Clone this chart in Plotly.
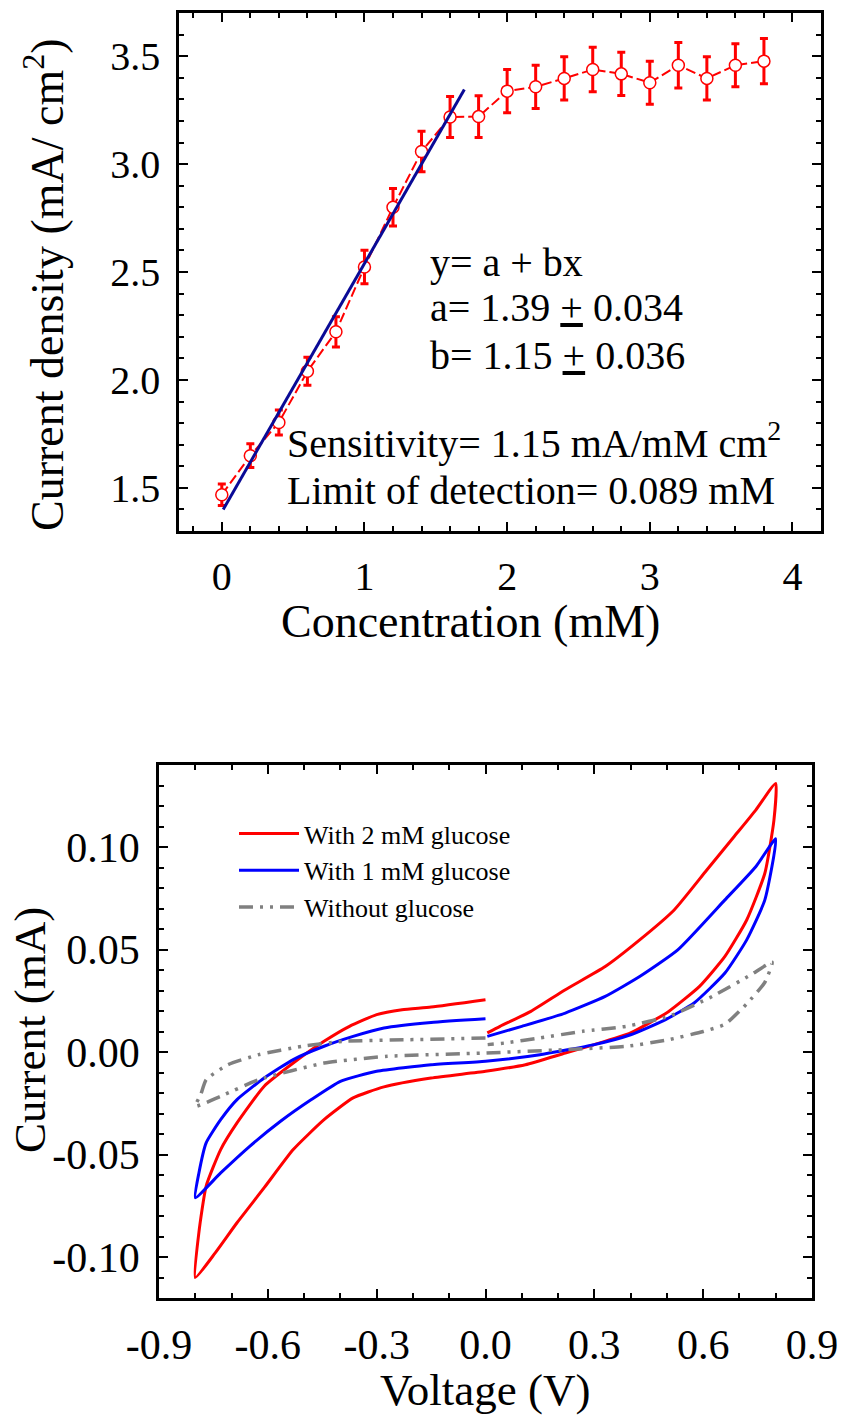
import plotly.graph_objects as go

# ---------------- data: top panel ----------------
conc = [0.0, 0.2, 0.4, 0.6, 0.8, 1.0, 1.2, 1.4, 1.6, 1.8, 2.0, 2.2, 2.4, 2.6, 2.8, 3.0, 3.2, 3.4, 3.6, 3.8]
current_density = [1.468, 1.649, 1.803, 2.04, 2.223, 2.523, 2.80, 3.058, 3.218, 3.22,
                   3.338, 3.358, 3.397, 3.438, 3.418, 3.377, 3.458, 3.397, 3.458, 3.477]
cd_error = [0.05, 0.055, 0.058, 0.065, 0.07, 0.078, 0.087, 0.094, 0.095, 0.097,
            0.10, 0.10, 0.10, 0.103, 0.10, 0.10, 0.105, 0.10, 0.10, 0.105]
fit_x = [0.01, 1.70]
fit_y = [1.40, 3.345]

# ---------------- data: bottom panel (CV) ----------------
red_v = [0.0, -0.15, -0.23, -0.30, -0.375, -0.445, -0.53, -0.61, -0.685, -0.73, -0.77, -0.79, -0.80,
         -0.745, -0.685, -0.61, -0.53, -0.445, -0.365, -0.28, -0.15, 0.0, 0.11, 0.22, 0.30, 0.40,
         0.505, 0.59, 0.66, 0.72, 0.77, 0.795, 0.80,
         0.745, 0.685, 0.61, 0.52, 0.425, 0.33, 0.22, 0.125, 0.04, 0.005]
red_i = [0.0255, 0.0219, 0.0206, 0.0182, 0.0125, 0.0052, -0.0054, -0.0167, -0.0346, -0.0476, -0.0654, -0.088, -0.110,
         -0.098, -0.0833, -0.0662, -0.0476, -0.033, -0.0224, -0.017, -0.0127, -0.0094, -0.0062, -0.0005, 0.0036, 0.0093,
         0.0198, 0.032, 0.0466, 0.0644, 0.0872, 0.113, 0.131,
         0.118, 0.105, 0.0888, 0.0693, 0.0547, 0.0417, 0.0304, 0.0198, 0.0125, 0.0093]

blue_v = [0.0, -0.15, -0.28, -0.365, -0.445, -0.53, -0.61, -0.685, -0.73, -0.77, -0.79, -0.80,
          -0.73, -0.65, -0.565, -0.48, -0.40, -0.30, -0.15, 0.0, 0.15, 0.30, 0.40, 0.495, 0.575,
          0.66, 0.72, 0.77, 0.80,
          0.745, 0.66, 0.53, 0.425, 0.33, 0.22, 0.10, 0.005]
blue_i = [0.0162, 0.0144, 0.0117, 0.0076, 0.0028, -0.0037, -0.0127, -0.0232, -0.033, -0.0443, -0.059, -0.0711,
          -0.059, -0.046, -0.0338, -0.0232, -0.0143, -0.0094, -0.0062, -0.0045, -0.0013, 0.0036, 0.0084, 0.0157, 0.0239,
          0.0385, 0.0547, 0.0742, 0.104,
          0.0904, 0.0742, 0.0498, 0.0368, 0.0271, 0.019, 0.0125, 0.0076]

gray_v = [0.0, -0.21, -0.39, -0.505, -0.625, -0.71, -0.77, -0.785, -0.80,
          -0.73, -0.625, -0.445, -0.27, 0.0, 0.21, 0.39, 0.505, 0.60, 0.66, 0.72, 0.77, 0.79,
          0.732, 0.625, 0.506, 0.387, 0.268, 0.149, 0.054, 0.006]
gray_i = [0.0068, 0.006, 0.0052, 0.0028, -0.0013, -0.0062, -0.0135, -0.0208, -0.0265,
          -0.0216, -0.0135, -0.0054, -0.0021, -0.0005, 0.0011, 0.0028, 0.006, 0.010, 0.0135, 0.0235, 0.034, 0.0438,
          0.0377, 0.0271, 0.0174, 0.0125, 0.0101, 0.0068, 0.0044, 0.0036]

legend_names = ["With 2 mM glucose", "With 1 mM glucose", "Without glucose"]

FONT = "Liberation Serif"
W, H = 842, 1416

def px(x):
    return x / W

def py(y):
    return 1 - y / H

fig = go.Figure()

# top panel
fig.add_trace(go.Scatter(
    x=conc, y=current_density, mode="lines+markers",
    line=dict(color="#ff0000", width=2, dash="10px,4px"),
    marker=dict(symbol="circle", size=12, color="white", line=dict(color="#ff0000", width=1.5)),
    error_y=dict(type="data", array=cd_error, visible=True, color="#ff0000", thickness=3, width=4),
    xaxis="x", yaxis="y", showlegend=False))
fig.add_trace(go.Scatter(
    x=fit_x, y=fit_y, mode="lines", line=dict(color="#0a0a96", width=3),
    xaxis="x", yaxis="y", showlegend=False))

# bottom panel
fig.add_trace(go.Scatter(x=red_v, y=red_i, mode="lines", name=legend_names[0],
                         line=dict(color="#ff0000", width=3, shape="spline", smoothing=0.5),
                         xaxis="x2", yaxis="y2"))
fig.add_trace(go.Scatter(x=blue_v, y=blue_i, mode="lines", name=legend_names[1],
                         line=dict(color="#0000ff", width=3, shape="spline", smoothing=0.5),
                         xaxis="x2", yaxis="y2"))
fig.add_trace(go.Scatter(x=gray_v, y=gray_i, mode="lines", name=legend_names[2],
                         line=dict(color="#808080", width=3.5, dash="14px,7px,3px,7px,3px,7px",
                                   shape="spline", smoothing=0.5),
                         xaxis="x2", yaxis="y2"))

axis_common = dict(showline=True, linecolor="black", linewidth=2.5, mirror="allticks",
                   ticks="inside", ticklen=9, tickwidth=2, tickcolor="black",
                   showgrid=False, zeroline=False, ticklabelstandoff=8, automargin=False)

fig.update_layout(
    width=W, height=H, margin=dict(l=0, r=0, t=0, b=0, autoexpand=False),
    paper_bgcolor="white", plot_bgcolor="white",
    font=dict(family=FONT, color="black"),
    xaxis=dict(domain=[px(179), px(821)], anchor="y", range=[-0.3, 4.2],
               tickvals=[0, 1, 2, 3, 4], tickfont=dict(size=40, family=FONT),
               minor=dict(dtick=0.2, tick0=0, ticks="inside", ticklen=5, tickwidth=2, tickcolor="black"),
               **axis_common),
    yaxis=dict(domain=[py(531), py(13)], anchor="x", range=[1.3, 3.7],
               tickvals=[1.5, 2.0, 2.5, 3.0, 3.5], ticktext=["1.5", "2.0", "2.5", "3.0", "3.5"],
               tickfont=dict(size=40, family=FONT),
               minor=dict(dtick=0.1, tick0=0, ticks="inside", ticklen=5, tickwidth=2, tickcolor="black"),
               **axis_common),
    xaxis2=dict(domain=[px(159), px(812)], anchor="y2", range=[-0.9, 0.9],
                tickvals=[-0.9, -0.6, -0.3, 0.0, 0.3, 0.6, 0.9],
                ticktext=["-0.9", "-0.6", "-0.3", "0.0", "0.3", "0.6", "0.9"],
                tickfont=dict(size=42, family=FONT),
                minor=dict(dtick=0.1, tick0=0, ticks="inside", ticklen=5, tickwidth=2, tickcolor="black"),
                **axis_common),
    yaxis2=dict(domain=[py(1298), py(765)], anchor="x2", range=[-0.12, 0.14],
                tickvals=[-0.10, -0.05, 0.0, 0.05, 0.10],
                ticktext=["-0.10", "-0.05", "0.00", "0.05", "0.10"],
                tickfont=dict(size=42, family=FONT),
                minor=dict(dtick=0.01, tick0=0, ticks="inside", ticklen=5, tickwidth=2, tickcolor="black"),
                **axis_common),
    legend=dict(x=px(234), y=py(810), xanchor="left", yanchor="top",
                font=dict(size=26, family=FONT), bgcolor="rgba(0,0,0,0)",
                itemwidth=60, tracegroupgap=0),
)

annos = [
    # axis titles
    dict(text="Concentration (mM)", x=px(470), y=py(621), font=dict(size=46)),
    dict(text="Current density (mA/ cm<sup>2</sup>)", x=px(44), y=py(285), textangle=-90, font=dict(size=46)),
    dict(text="Voltage (V)", x=px(485), y=py(1390), font=dict(size=45)),
    dict(text="Current (mA)", x=px(30), y=py(1030), textangle=-90, font=dict(size=45)),
]
for a in annos:
    a.update(xref="paper", yref="paper", showarrow=False, xanchor="center", yanchor="middle")
    a["font"]["family"] = FONT
    fig.add_annotation(**a)

text_annos = [
    ("y= a + bx", 428, 262),
    ("a= 1.39 <u>+</u> 0.034", 428, 307),
    ("b= 1.15 <u>+</u> 0.036", 428, 355),
    ("Sensitivity= 1.15 mA/mM cm<sup>2</sup>", 285, 441),
    ("Limit of detection= 0.089 mM", 285, 490),
]
for t, x, y in text_annos:
    fig.add_annotation(text=t, x=px(x), y=py(y), xref="paper", yref="paper", showarrow=False,
                       xanchor="left", yanchor="middle", font=dict(size=40, family=FONT))

fig.write_html("out.html")
